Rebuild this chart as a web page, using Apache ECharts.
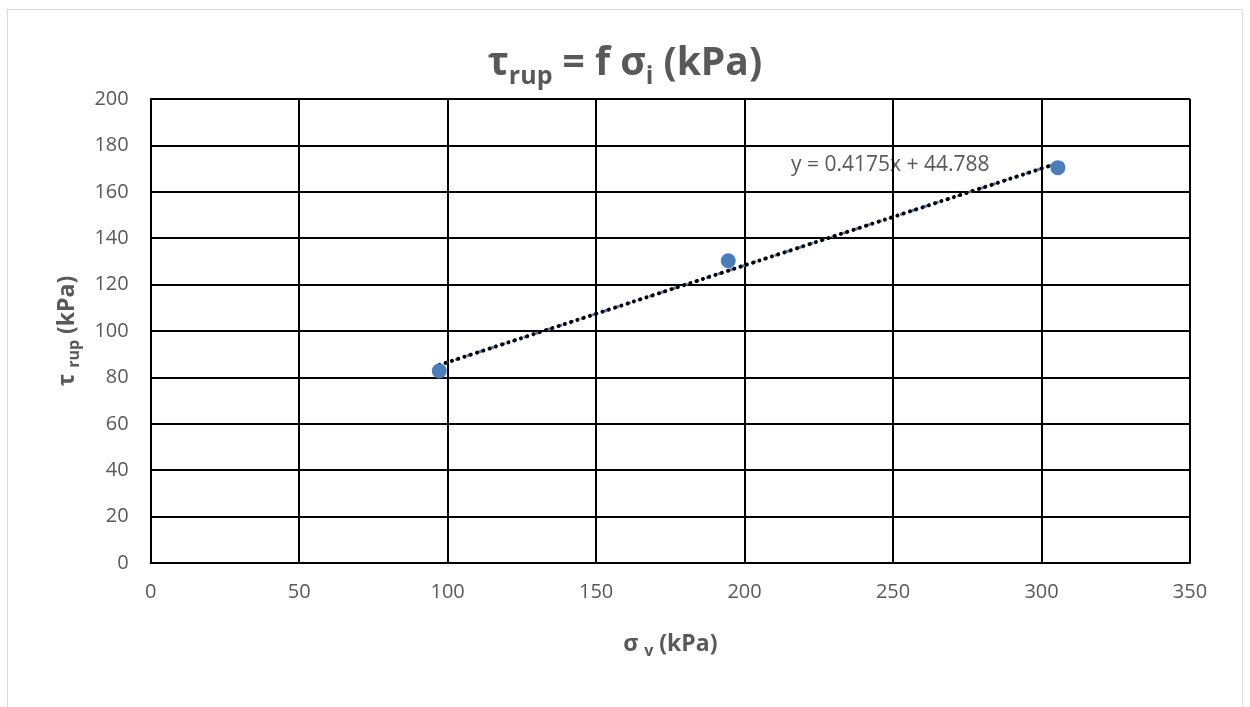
<!DOCTYPE html>
<html>
<head>
<meta charset="utf-8">
<script src="https://cdn.jsdelivr.net/npm/echarts@6/dist/echarts.min.js"></script>
<style>
  html, body { margin: 0; padding: 0; background: #fff; }
  #frame { position: absolute; left: 7px; top: 9px; width: 1234px; height: 720px; border: 1.5px solid #d9d9d9; }
  #main { position: absolute; left: 0; top: 0; width: 1250px; height: 707px; }
</style>
</head>
<body>
<div id="frame"></div>
<div id="main"></div>
<script>
// points (sigma_v, tau_rup) in kPa
var sigmaV = [97.2, 194.5, 305.5];
var tauRup = [82.8, 130.3, 170.4];
// trendline as printed on the chart
var slope = 0.4175;
var intercept = 44.788;
var xTicks = [0, 50, 100, 150, 200, 250, 300, 350];
var yTicks = [0, 20, 40, 60, 80, 100, 120, 140, 160, 180, 200];

var points = sigmaV.map(function (x, i) { return [x, tauRup[i]]; });
var xFirst = sigmaV[0], xLast = sigmaV[sigmaV.length - 1];
var trend = [[xFirst, slope * xFirst + intercept], [xLast, slope * xLast + intercept]];

var grey = '#595959';
var font = 'Open Sans';

var myChart = echarts.init(document.getElementById('main'));
var option = {
  animation: false,
  title: {
    text: '{a|τ}{s|rup}{a| = f σ}{s|i}{a| (kPa)}',
    left: 'center',
    top: 34,
    textStyle: {
      rich: {
        a: { fontFamily: font, fontSize: 39, fontWeight: 'bold', color: grey, lineHeight: 50 },
        s: { fontFamily: font, fontSize: 25, fontWeight: 'bold', color: grey, verticalAlign: 'bottom', padding: [20, 0, 0, 0] }
      }
    }
  },
  grid: { left: 150.7, right: 60, top: 99, bottom: 144 },
  xAxis: {
    type: 'value', min: 0, max: 350, interval: 50,
    name: '{a|σ }{s|v}{a| (kPa)}',
    nameLocation: 'middle', nameGap: 66,
    nameTextStyle: {
      rich: {
        a: { fontFamily: font, fontSize: 23, fontWeight: 'bold', color: grey },
        s: { fontFamily: font, fontSize: 16, fontWeight: 'bold', color: grey, padding: [14, 0, 0, 0] }
      }
    },
    axisLine: { show: true, lineStyle: { color: '#000', width: 2 } },
    axisTick: { show: false },
    axisLabel: { fontFamily: font, fontSize: 20, color: grey, margin: 19,
      formatter: function (v) { return xTicks.indexOf(v) >= 0 ? String(v) : ''; } },
    splitLine: { show: true, lineStyle: { color: '#000', width: 2 } }
  },
  yAxis: {
    type: 'value', min: 0, max: 200, interval: 20,
    name: '{a|τ }{s|rup}{a| (kPa)}',
    nameLocation: 'middle', nameGap: 68, nameRotate: 90,
    nameTextStyle: {
      rich: {
        a: { fontFamily: font, fontSize: 23, fontWeight: 'bold', color: grey },
        s: { fontFamily: font, fontSize: 16, fontWeight: 'bold', color: grey, padding: [14, 0, 0, 0] }
      }
    },
    axisLine: { show: true, lineStyle: { color: '#000', width: 2 } },
    axisTick: { show: false },
    axisLabel: { fontFamily: font, fontSize: 20, color: grey, margin: 22,
      formatter: function (v) { return yTicks.indexOf(v) >= 0 ? String(v) : ''; } },
    splitLine: { show: true, lineStyle: { color: '#000', width: 2 } }
  },
  series: [
    {
      type: 'line', data: trend, symbol: 'none', silent: true, z: 3,
      lineStyle: { color: '#4f81bd', width: 3, type: [2, 10], dashOffset: 6, cap: 'round' }
    },
    {
      type: 'line', data: trend, symbol: 'none', silent: true, z: 4,
      lineStyle: { color: '#000', width: 4, type: [0.1, 6.5], cap: 'round' }
    },
    {
      type: 'scatter', data: points, symbolSize: 15, z: 5,
      itemStyle: { color: '#4a7ebb', opacity: 1 }
    }
  ],
  graphic: [{
    type: 'text', left: 791, top: 155,
    style: { text: 'y = 0.4175x + 44.788', fontFamily: font, fontSize: 21, fill: grey }
  }]
};
myChart.setOption(option);
</script>
</body>
</html>
